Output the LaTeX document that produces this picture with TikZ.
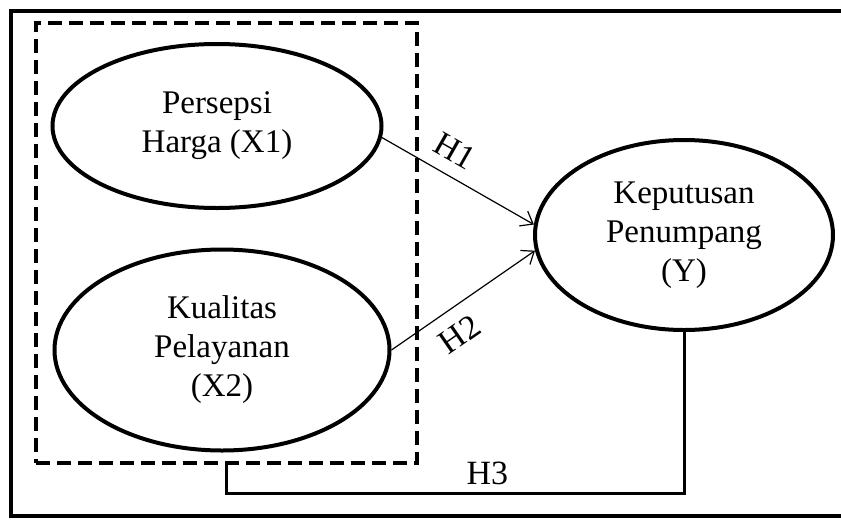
\documentclass[tikz,border=0pt]{standalone}
\usepackage{fontspec}
\setmainfont{Liberation Serif}
\usepackage{tikz}
\usetikzlibrary{arrows.meta, positioning, shapes.geometric}

\begin{document}
\begin{tikzpicture}[
  x=1pt, y=-1pt,
  var/.style={draw, ellipse, line width=4pt, inner sep=0pt, align=center, font=\fontsize{33}{39}\selectfont},
  group/.style={draw, dash pattern=on 14pt off 7pt, line width=4pt, inner sep=0pt},
  arrow/.style={-{Straight Barb[length=11pt,width=17pt]}, line width=1.2pt},
  hyp/.style={font=\fontsize{34}{38}\selectfont}
]
\useasboundingbox (0,0) rectangle (841,520);
\draw[line width=4.5pt] (11,11) rectangle (870,516);

\node[group, minimum width=381pt, minimum height=440pt] (grp) at (226.5,243) {};
\node[var, minimum width=329pt, minimum height=164pt] (x1) at (217,126) {Persepsi\\Harga (X1)};
\node[var, minimum width=335pt, minimum height=201pt] (x2) at (222,350) {Kualitas\\Pelayanan\\(X2)};
\node[var, minimum width=298pt, minimum height=190pt] (y) at (684,235) {Keputusan\\Penumpang\\(Y)};
\coordinate (h3) at (0,493);

\draw[arrow] (x1.-4) -- node[hyp, sloped, above=9pt, pos=0.4] {H1} (y.176);
\draw[arrow] (x2.east) -- node[hyp, sloped, below=11pt, pos=0.37] {H2} (y.186);
\draw[line width=3pt] (y.south) -- (y.south |- h3) -- node[hyp, above=3pt, pos=0.43] {H3} (grp.south |- h3) -- (grp.south);
\end{tikzpicture}
\end{document}
